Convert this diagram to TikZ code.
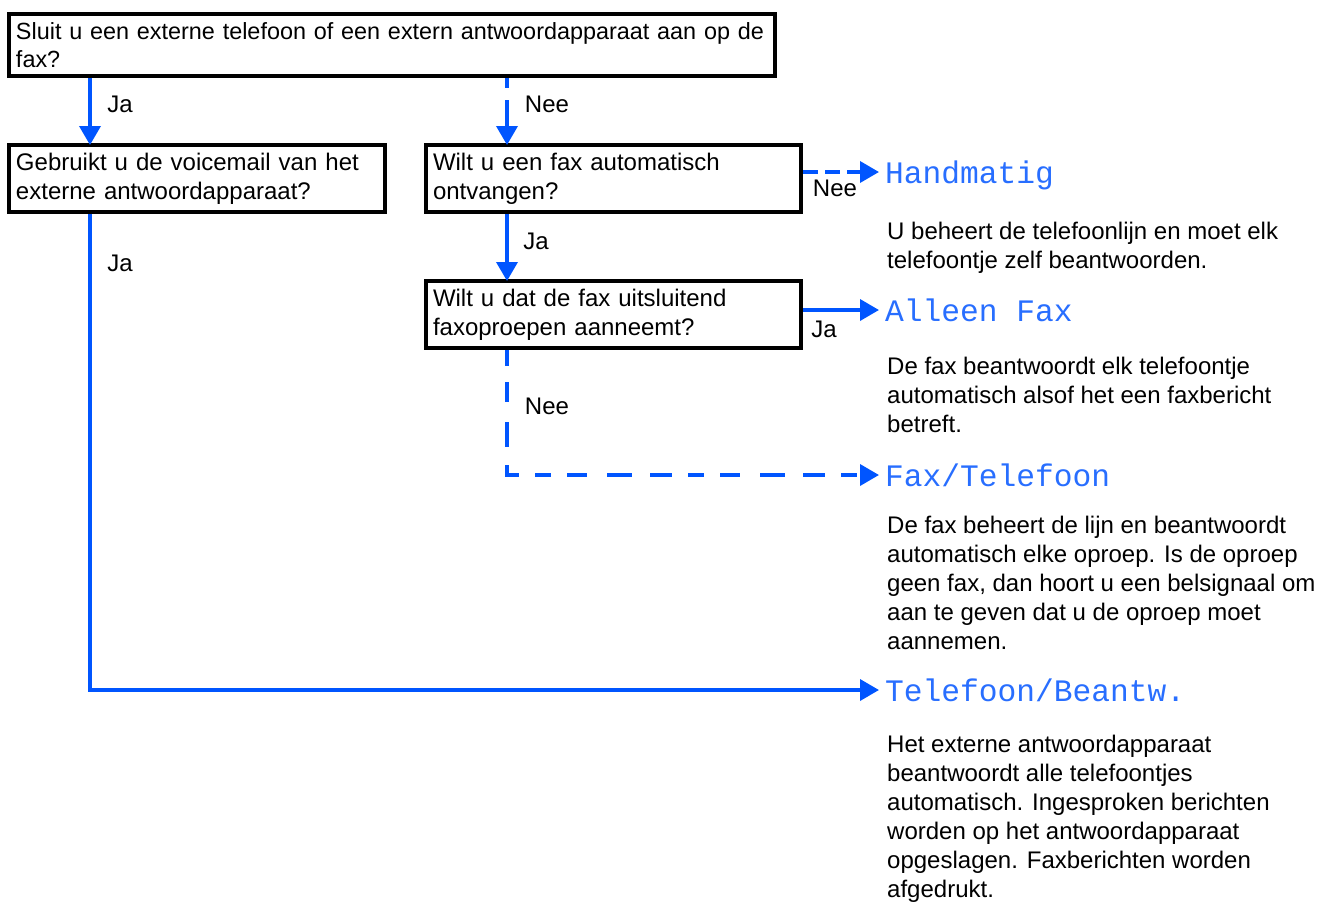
\documentclass[tikz,border=0pt]{standalone}
\usepackage{fontspec}
\setmainfont{Liberation Sans}
\newfontfamily\lcdfont{Liberation Mono}
\usetikzlibrary{arrows.meta}
\definecolor{flowblue}{RGB}{0,85,255}
\definecolor{lcdblue}{RGB}{40,110,255}
\tikzset{
  qbox/.style={draw=black, line width=4pt, rectangle, align=left, inner xsep=7pt, inner ysep=0pt,
    font=\fontsize{24}{29}\selectfont},
  arr/.style={draw=flowblue, line width=3.6pt, -{Triangle[length=19pt,width=21pt]}},
  lbl/.style={font=\fontsize{24}{29}\selectfont, inner sep=0pt},
  lcd/.style={text=lcdblue, font=\lcdfont\fontsize{31.25}{34}\selectfont, inner sep=0pt},
  desc/.style={font=\fontsize{24}{29}\selectfont, align=left, inner sep=0pt, anchor=north west}
}
\begin{document}
\begin{tikzpicture}[x=1pt,y=-1pt]
\useasboundingbox (0,0) rectangle (1317,903);

% question boxes
\node[qbox, minimum width=766pt, minimum height=62pt, text width=752pt,
      font=\fontsize{23.4}{28.5}\selectfont] (q1) at (392,45)
  {\mbox{Sluit u een externe telefoon of een extern antwoordapparaat aan op de}\\fax?};
\node[qbox, minimum width=376pt, minimum height=67pt, text width=362pt] (q2) at (197,178.5)
  {Gebruikt u de voicemail van het\\externe antwoordapparaat?};
\node[qbox, minimum width=375pt, minimum height=67pt, text width=361pt] (q3) at (613.5,178.5)
  {Wilt u een fax automatisch\\ontvangen?};
\node[qbox, minimum width=375pt, minimum height=67pt, text width=361pt] (q4) at (613.5,314.5)
  {Wilt u dat de fax uitsluitend\\faxoproepen aanneemt?};

% result labels
\node[lcd, anchor=base west] (hand) at (885,183) {Handmatig};
\node[lcd, anchor=base west] (alleen) at (885,321) {Alleen Fax};
\node[lcd, anchor=base west] (faxtel) at (885,486) {Fax/Telefoon};
\node[lcd, anchor=base west] (telbe) at (885,701) {Telefoon/Beantw.};

% descriptions
\node[desc] (d1) at (887,222) {U beheert de telefoonlijn en moet elk\\telefoontje zelf beantwoorden.};
\node[desc] (d2) at (887,357) {De fax beantwoordt elk telefoontje\\automatisch alsof het een faxbericht\\betreft.};
\node[desc] (d3) at (887,516) {De fax beheert de lijn en beantwoordt\\automatisch elke oproep. Is de oproep\\geen fax, dan hoort u een belsignaal om\\aan te geven dat u de oproep moet\\aannemen.};
\node[desc] (d4) at (887,735) {Het externe antwoordapparaat\\beantwoordt alle telefoontjes\\automatisch. Ingesproken berichten\\worden op het antwoordapparaat\\opgeslagen. Faxberichten worden\\afgedrukt.};

% helper coordinates
\coordinate (xl) at (90,0);
\coordinate (xm) at (507,0);
\coordinate (tH) at (879,172);
\coordinate (tA) at (879,310);
\coordinate (tF) at (879,475);
\coordinate (tT) at (879,690);

% connectors
\draw[arr] (q1.south -| xl) -- ([yshift=-2pt]q2.north -| xl);
\draw[arr, dash pattern=on 10pt off 12pt on 60pt] (q1.south -| xm) -- ([yshift=-2pt]q3.north -| xm);
\draw[arr, dash pattern=on 15pt off 7pt] (q3.east |- tH) -- (tH);
\draw[arr] (q3.south -| xm) -- ([yshift=-2pt]q4.north -| xm);
\draw[arr] (q4.east |- tA) -- (tA);
\draw[arr, dash pattern=on 16pt off 16pt on 20pt off 20pt on 25pt off 18pt on 22pt off 16pt] (q4.south -| xm) |- (tF);
\draw[arr] (q2.south -| xl) |- (tT);

% branch labels
\node[lbl] (l1) at (120,104) {Ja};
\node[lbl] (l2) at (547,104) {Nee};
\node[lbl] (l3) at (835,188) {Nee};
\node[lbl] (l4) at (536,241) {Ja};
\node[lbl] (l5) at (824,329) {Ja};
\node[lbl] (l6) at (547,406) {Nee};
\node[lbl] (l7) at (120,263) {Ja};
\end{tikzpicture}
\end{document}
